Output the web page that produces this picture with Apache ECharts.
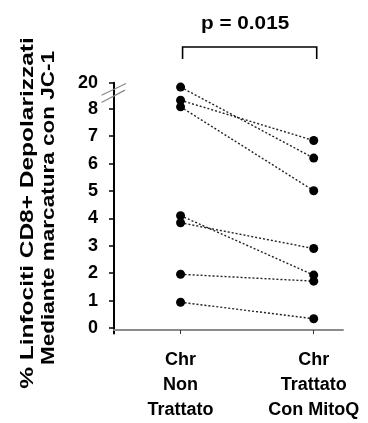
<!DOCTYPE html>
<html>
<head>
<meta charset="utf-8">
<script src="https://cdn.jsdelivr.net/npm/echarts@6/dist/echarts.min.js"></script>
<style>
html,body{margin:0;padding:0;background:#fff;}
#chart{width:368px;height:423px;}
</style>
</head>
<body>
<div id="chart"></div>
<script>
// Data
var categories = ['Chr\nNon\nTrattato', 'Chr\nTrattato\nCon MitoQ'];
var nonTrattato = [19.84, 8.31, 8.07, 4.10, 3.84, 1.96, 0.94];
var trattatoMitoQ = [6.20, 6.84, 5.01, 1.93, 2.90, 1.71, 0.34];
var yTickValues = [0, 1, 2, 3, 4, 5, 6, 7, 8, 20];
var yTitleLines = ['% Linfociti CD8+ Depolarizzati', 'Mediante marcatura con JC-1'];
var pValueText = 'p = 0.015';

// Axis break: values between BREAK_LOW and BREAK_HIGH are collapsed
var BREAK_LOW = 8.45, BREAK_HIGH = 19.5;
function disp(v) { return v <= BREAK_LOW ? v : v - (BREAK_HIGH - BREAK_LOW); }
function undisp(d) { return d <= BREAK_LOW ? d : d + (BREAK_HIGH - BREAK_LOW); }

var FONT = '"Liberation Sans", Arial, sans-serif';
var tickDisp = yTickValues.map(disp);

var series = nonTrattato.map(function (l, i) {
  return {
    type: 'line',
    data: [[0, disp(l)], [1, disp(trattatoMitoQ[i])]],
    symbol: 'circle',
    symbolSize: 9,
    itemStyle: { color: '#000' },
    lineStyle: { color: '#222', width: 1.4, type: [2, 2] },
    z: 3
  };
});

var chart = echarts.init(document.getElementById('chart'), null, { renderer: 'canvas' });
chart.setOption({
  animation: false,
  backgroundColor: '#fff',
  grid: { left: 114, right: 25, top: 82.7, bottom: 87.5, containLabel: false },
  xAxis: {
    type: 'value',
    min: -0.5,
    max: 1.22,
    position: 'bottom',
    offset: -3.5,
    splitLine: { show: false },
    axisLine: { show: true, onZero: false, lineStyle: { color: '#8c8c8c', width: 2 } },
    axisTick: { show: true, customValues: [0, 1], length: 4, lineStyle: { color: '#333', width: 1 } },
    axisLabel: {
      customValues: [0, 1],
      formatter: function (v) { return categories[Math.round(v)]; },
      fontFamily: FONT, fontWeight: 'bold', fontSize: 18, lineHeight: 25,
      color: '#000', margin: 18, align: 'center'
    }
  },
  yAxis: {
    type: 'value',
    min: -0.2,
    max: disp(20),
    splitLine: { show: false },
    axisLine: { show: true, onZero: false, lineStyle: { color: '#000', width: 2 } },
    axisTick: { show: true, customValues: tickDisp, length: 5, lineStyle: { color: '#000', width: 1.5 } },
    axisLabel: {
      customValues: tickDisp,
      formatter: function (v) { return String(Math.round(undisp(v))); },
      fontFamily: FONT, fontWeight: 'bold', fontSize: 18, color: '#000', margin: 16
    }
  },
  series: series
});

// Decorations positioned through the axes: break marks, bracket, p-value, y title
function px(x, y) { return chart.convertToPixel({ gridIndex: 0 }, [x, y]); }
var axisX = px(-0.5, 0)[0];
var b1a = px(-0.5, 8.49), b1b = px(-0.5, 8.92);
var b2a = px(-0.5, 8.23), b2b = px(-0.5, 8.68);
var c0 = px(0, 0), c1 = px(1, 0);
var brTop = 47, brBot = 59;
var titleStyle = { fontFamily: FONT, fontWeight: 'bold', fontSize: 18, fill: '#000', textAlign: 'center', textVerticalAlign: 'middle' };
chart.setOption({
  graphic: [
    { type: 'line', shape: { x1: axisX - 12.5, y1: b1a[1], x2: axisX + 12, y2: b1b[1] }, style: { stroke: '#8a8a8a', lineWidth: 1.2 }, z: 10 },
    { type: 'line', shape: { x1: axisX - 12.5, y1: b2a[1], x2: axisX + 11, y2: b2b[1] }, style: { stroke: '#8a8a8a', lineWidth: 1.2 }, z: 10 },
    { type: 'polyline', shape: { points: [[c0[0] + 2, brBot], [c0[0] + 2, brTop], [c1[0] + 3, brTop], [c1[0] + 3, brBot]] }, style: { stroke: '#000', lineWidth: 1.6, fill: null }, z: 10 },
    { type: 'text', x: (c0[0] + c1[0]) / 2 - 2, y: 23.5, scaleX: 1.09, style: { text: pValueText, fontFamily: FONT, fontWeight: 'bold', fontSize: 19, fill: '#000', textAlign: 'center', textVerticalAlign: 'middle' }, z: 10 },
    { type: 'text', x: 28.5, y: 213, rotation: Math.PI / 2, scaleX: 1.36, style: Object.assign({ text: yTitleLines[0] }, titleStyle), z: 10 },
    { type: 'text', x: 49.5, y: 208, rotation: Math.PI / 2, scaleX: 1.25, style: Object.assign({ text: yTitleLines[1] }, titleStyle), z: 10 }
  ]
});
</script>
</body>
</html>
